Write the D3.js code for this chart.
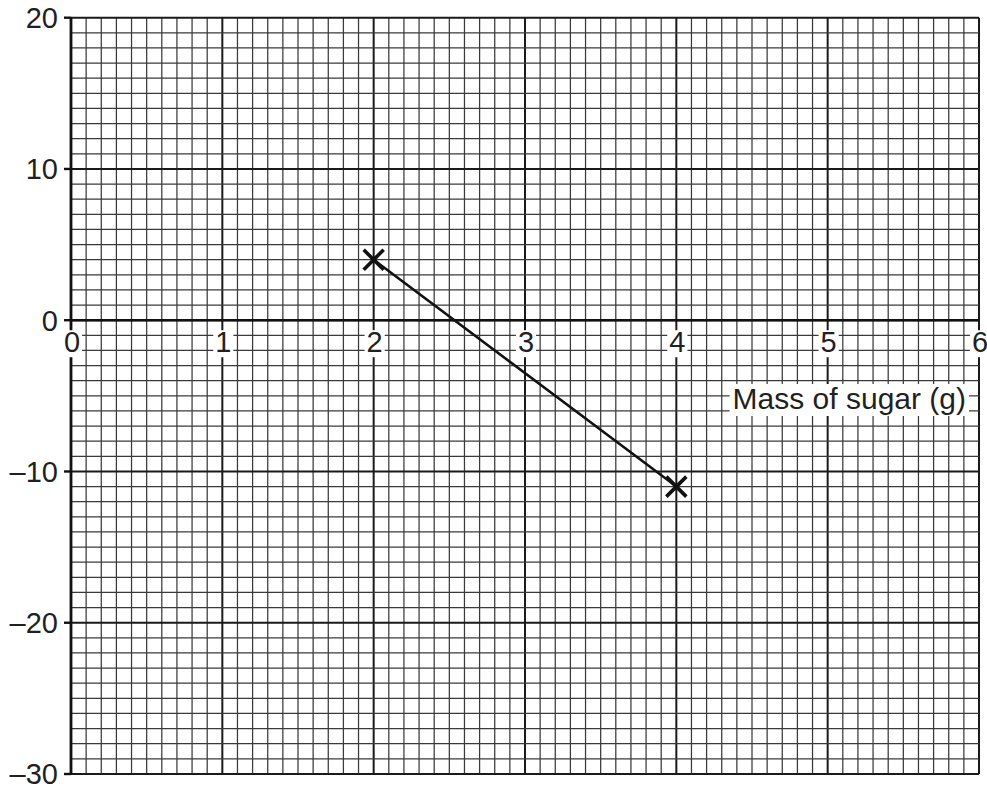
<!DOCTYPE html>
<html><head><meta charset="utf-8">
<script src="https://cdn.jsdelivr.net/npm/d3@7"></script>
<style>html,body{margin:0;padding:0;background:#fff;} svg{display:block;}</style>
</head><body>
<script>
const xTickLabels = ["0","1","2","3","4","5","6"];
const xTickValues = [0,1,2,3,4,5,6];
const yTickValues = [-30,-20,-10,0,10,20];
const yTickLabels = ["\u201330","\u201320","\u201310","0","10","20"];
const massValues = [2,4];
const yValues = [4,-11];
const xAxisTitle = "Mass of sugar (g)";

const W = 987, H = 790;
const svg = d3.select("body").append("svg").attr("width", W).attr("height", H);
const x = d3.scaleLinear().domain([0,6]).range([71,979]);
const y = d3.scaleLinear().domain([-30,20]).range([774,17.7]);
const font = "'Liberation Sans', Arial, Helvetica, sans-serif";
const fs = 29;

const g = svg.append("g");
const vx = d3.range(0,61).map(i=>i/10);
const major = k => k%10===0;
g.selectAll("line.v").data(vx).join("line")
  .attr("x1", d=>x(d)).attr("x2", d=>x(d)).attr("y1", y(20)).attr("y2", y(-30))
  .attr("stroke", d=>major(Math.round(d*10)) ? "#1a1a1a" : "#3a3a3a")
  .attr("stroke-width", d=>major(Math.round(d*10)) ? 2 : 1.25);
const hy = d3.range(-30,21);
g.selectAll("line.h").data(hy).join("line")
  .attr("y1", d=>y(d)).attr("y2", d=>y(d)).attr("x1", x(0)).attr("x2", x(6))
  .attr("stroke", d=>major(Math.abs(d)) ? "#1a1a1a" : "#3a3a3a")
  .attr("stroke-width", d=>major(Math.abs(d)) ? 2 : 1.25);

// axes
svg.append("line").attr("x1", x(0)).attr("x2", x(6)).attr("y1", y(0)).attr("y2", y(0))
  .attr("stroke","#111").attr("stroke-width",2.6);
svg.append("line").attr("x1", x(0)).attr("x2", x(0)).attr("y1", y(20)-0.5).attr("y2", y(-30)+0.5)
  .attr("stroke","#111").attr("stroke-width",2.8);

// y ticks
const yAxis = svg.append("g");
yTickValues.forEach((v,i)=>{
  yAxis.append("line").attr("x1", 64).attr("x2", x(0)).attr("y1", y(v)).attr("y2", y(v))
    .attr("stroke","#111").attr("stroke-width",2.4);
  yAxis.append("text").attr("x", 58).attr("y", y(v)).attr("dy","0.36em")
    .attr("text-anchor","end").attr("font-family",font).attr("font-size",fs).attr("fill","#231f20")
    .text(yTickLabels[i]);
});

// x tick labels with white backgrounds
xTickValues.forEach((v,i)=>{
  const grp = svg.append("g");
  const r = grp.append("rect").attr("fill","#fff");
  const t = grp.append("text").attr("x", x(v)+1).attr("y", y(0)+32)
    .attr("text-anchor","middle").attr("font-family",font).attr("font-size",fs).attr("fill","#231f20")
    .text(xTickLabels[i]);
  const b = t.node().getBBox();
  r.attr("x", b.x-2).attr("y", b.y+4).attr("width", b.width+4).attr("height", b.height-5);
});

// axis title with white background
const tg = svg.append("g");
const tr = tg.append("rect").attr("fill","#fff");
const tt = tg.append("text").attr("x", 966).attr("y", 409).attr("text-anchor","end")
  .attr("font-family",font).attr("font-size",30).attr("fill","#231f20").text(xAxisTitle);
const tb = tt.node().getBBox();
tr.attr("x", tb.x-3).attr("y", tb.y+2).attr("width", tb.width+6).attr("height", tb.height-1);

// data line
const pts = massValues.map((m,i)=>[m,yValues[i]]);
svg.append("path").datum(pts)
  .attr("d", d3.line().x(d=>x(d[0])).y(d=>y(d[1])))
  .attr("fill","none").attr("stroke","#111").attr("stroke-width",2.5);

// cross markers
const s = 10;
svg.selectAll("path.cross").data(pts).join("path")
  .attr("d", d=>{const cx=x(d[0]), cy=y(d[1]);
    return `M${cx-s},${cy-s}L${cx+s},${cy+s}M${cx-s},${cy+s}L${cx+s},${cy-s}`;})
  .attr("stroke","#111").attr("stroke-width",3.6).attr("fill","none");
</script>
</body></html>
